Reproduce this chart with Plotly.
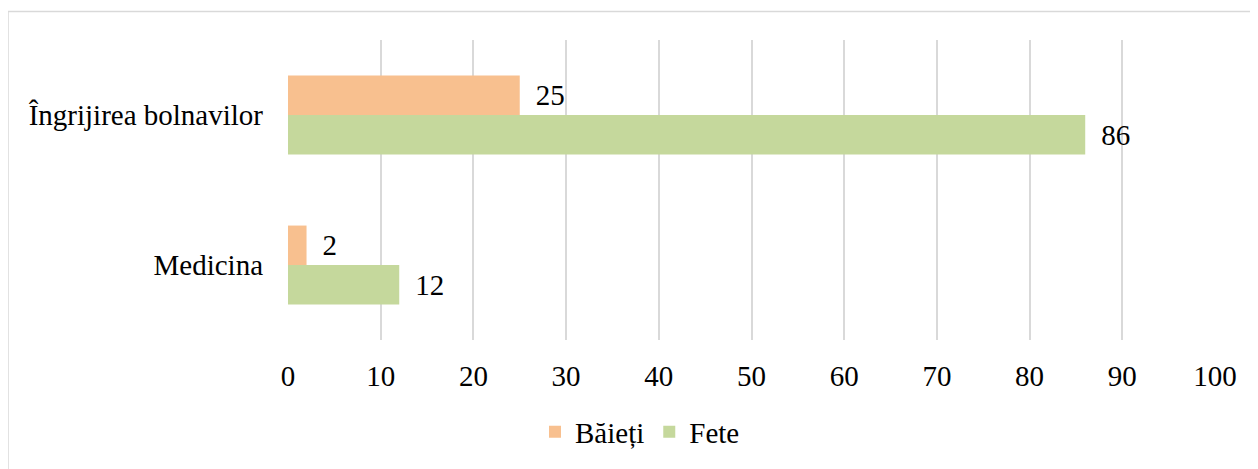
import plotly.graph_objects as go

categories = ["Îngrijirea bolnavilor", "Medicina"]
baieti = [25, 2]
fete = [86, 12]
series_names = ["Băieți", "Fete"]
x_ticks = list(range(0, 101, 10))

FONT = "Times New Roman"
FS = 29
ORANGE = "#F8C08F"
GREEN = "#C5D89C"

fig = go.Figure()
for vals, name, col in [(baieti, series_names[0], ORANGE), (fete, series_names[1], GREEN)]:
    fig.add_trace(go.Bar(
        y=categories, x=vals, name=name, orientation="h",
        marker=dict(color=col, line=dict(width=0)),
        text=vals, texttemplate="\u00a0\u2009%{x}", textposition="outside",
        textfont=dict(family=FONT, size=FS, color="#000000"), cliponaxis=False,
    ))

# page body has an 8px margin; figure is placed at (8, 8)
OFF = 8
W, H = 1258 - OFF, 469 - OFF
plot_left, plot_right, plot_top, plot_bottom = 288, 1215, 40, 344
L = plot_left - OFF
R = 1258 - plot_right
T = plot_top - OFF
B = 469 - plot_bottom
pw = plot_right - plot_left
ph = plot_bottom - plot_top

fig.update_layout(
    width=W, height=H,
    margin=dict(l=L, r=R, t=T, b=B, pad=0),
    barmode="group", bargap=0.474, bargroupgap=0,
    plot_bgcolor="white", paper_bgcolor="white",
    font=dict(family=FONT, size=FS, color="#000000"),
    showlegend=True,
    legend=dict(orientation="h", x=(640 - plot_left) / pw, xanchor="center",
                y=(plot_bottom - 437) / ph, yanchor="middle",
                font=dict(family=FONT, size=FS, color="#000000"),
                bgcolor="rgba(0,0,0,0)"),
    xaxis=dict(range=[0, 100], tickvals=x_ticks, showgrid=True,
               gridcolor="#D9D9D9", gridwidth=1.5, zeroline=False,
               showline=False, ticks="", ticklabelstandoff=16,
               tickfont=dict(family=FONT, size=FS, color="#000000"),
               fixedrange=True),
    yaxis=dict(categoryorder="array", categoryarray=categories,
               autorange="reversed", showgrid=False, zeroline=False,
               showline=False, ticks="", ticklabelstandoff=24,
               tickfont=dict(family=FONT, size=FS, color="#000000")),
    shapes=[dict(type="rect", xref="paper", yref="paper",
                 x0=(8 - plot_left) / pw, x1=(1300 - plot_left) / pw,
                 y0=-(B + 40) / ph, y1=(plot_bottom - 11) / ph,
                 line=dict(color="#D9D9D9", width=1.5), fillcolor="rgba(0,0,0,0)",
                 layer="below")],
)

fig.write_html("out.html")
